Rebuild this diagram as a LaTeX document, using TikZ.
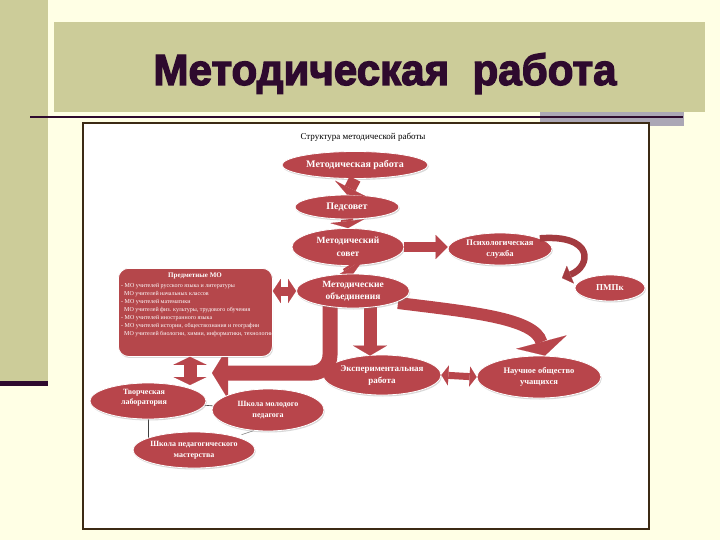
\documentclass[tikz,border=0pt]{standalone}
\usepackage{fontspec}
\setmainfont{Liberation Serif}
\newfontfamily\titlefont[BoldFeatures={FakeBold=3}]{Liberation Sans}
\usetikzlibrary{arrows.meta,shapes.geometric,shadows,calc}
\definecolor{bg}{HTML}{FFFFE5}
\definecolor{olive}{HTML}{CCCC99}
\definecolor{darkpurple}{HTML}{2E0A2E}
\definecolor{graybar}{HTML}{ABA7B5}
\definecolor{panelborder}{HTML}{3C2A14}
\definecolor{myred}{HTML}{B8454B}
\definecolor{boxred}{HTML}{B5474B}
\definecolor{psyred}{HTML}{A33B40}
\tikzset{
  ell/.style={ellipse, fill=myred, draw=white, line width=0.8pt, inner sep=0pt,
    drop shadow={shadow xshift=0.8pt, shadow yshift=-1.5pt, opacity=0.3}},
  lbl/.style={text=white, font=\bfseries\fontsize{#1}{#1}\selectfont, align=center, inner sep=0pt},
  blk/.style args={#1/#2/#3}{draw=myred, line width=#1pt,
    -{Triangle[width=#2pt,length=#3pt,line width=0.1pt]}},
  dblk/.style args={#1/#2/#3}{draw=myred, line width=#1pt,
    {Triangle[width=#2pt,length=#3pt,line width=0.1pt]}-{Triangle[width=#2pt,length=#3pt,line width=0.1pt]}},
  thin/.style={draw=black!75, line width=0.6pt}
}
\begin{document}
\begin{tikzpicture}[x=1pt,y=-1pt]
\useasboundingbox (0,0) rectangle (720,540);
% background
\fill[bg] (0,0) rectangle (720,540);
\fill[olive] (0,0) rectangle (48,383);
\fill[darkpurple] (0,381) rectangle (48,386);
\fill[olive] (54,22) rectangle (705,112);
\fill[graybar] (540,112) rectangle (684,126);
\draw[darkpurple, line width=2.2pt] (30,117) -- (683,117);
% title
\node[anchor=base, inner sep=0pt, text=darkpurple] (title) at (385,85)
  {\titlefont\bfseries\resizebox{463pt}{32pt}{Методическая\ \ работа}};
% panel
\draw[panelborder, line width=2pt, fill=white] (83,123) rectangle (649,529);
\node[font=\fontsize{9}{10}\selectfont, inner sep=0pt] (cap) at (363,137) {Структура методической работы};

% ellipses (upper part)
\node[ell, minimum width=146pt, minimum height=27pt] (e1) at (355,165) {};
\node[ell, minimum width=104pt, minimum height=24pt] (e2) at (347,207) {};
\node[ell, minimum width=112pt, minimum height=37pt] (e3) at (348,247) {};
\node[ell, minimum width=104pt, minimum height=32pt] (psy) at (500,249) {};
\node[ell, minimum width=70pt, minimum height=26pt] (pmpk) at (610,288) {};
\node[ell, minimum width=118pt, minimum height=40pt] (e5) at (382,375) {};
\node[ell, minimum width=124pt, minimum height=42pt] (e6) at (539,377) {};

% thin connectors (partly hidden under the lower ellipses)
\coordinate (c7) at (148,401);
\coordinate (c8) at (268,410);
\coordinate (c9) at (194,450);
\draw[thin] (c7) -- (c7 |- c9);
\draw[thin] (c7) -- (c8);

% arrows
\draw[blk=12/34/7] (e1.south) -- (e2.north);
\draw[blk=12/34/7] (e2.south) -- (e3.north);
\coordinate (e4n) at (353,274);
\draw[blk=12/34/7] (e3.south) -- (e4n);
\draw[blk=10/24/12] (e3.east) -- (e3.east -| psy.west);
\coordinate (pmtip) at (562,278);
\draw[draw=psyred, line width=6.5pt, -{Triangle[width=19pt,length=9pt,line width=0.1pt]}]
  (psy.15) .. controls (594,234) and (592,266) .. (pmtip);
\coordinate (bigtip) at (212,373);
\draw[blk=15/52/16, rounded corners=18pt] (330,300) |- (bigtip);
\draw[blk=12/52/14] (398,303) .. controls (470,312) and (535,318) .. ($(e6.north)+(6,0)$);
\draw[blk=13/34/10] (370,300) -- ($(e5.north)+(-12,1)$);
\draw[dblk=7/20/7] (e5.east) -- (e6.west);

% Методические объединения (on top of arrow starts)
\node[ell, minimum width=113pt, minimum height=34pt] (e4) at (353,291) {};

% box of subject MO
\node[draw=white, line width=0.8pt, fill=boxred, rounded corners=10pt, minimum width=154pt,
  minimum height=88pt, anchor=north west, inner sep=0pt,
  drop shadow={shadow xshift=0.8pt, shadow yshift=-1.5pt, opacity=0.3}] (box) at (118,268) {};
\draw[dblk=9/24/8] (box.east |- e4.west) -- (e4.west);
\coordinate (a8) at (190,385);
\draw[dblk=13/33/8] (box.south -| a8) -- (a8);
\node[lbl=7] at (195,276) {Предметные МО};
\node[anchor=north west, text=white, align=left, inner sep=0pt,
  font=\fontsize{6}{8.1}\selectfont] (mo) at (121,283) {%
- МО учителей русского языка и литературы\\
\hspace{3pt}МО учителей начальных классов\\
- МО учителей математики\\
\hspace{3pt}МО учителей физ. культуры, трудового обучения\\
- МО учителей иностранного языка\\
- МО учителей истории, обществознания и географии\\
\hspace{3pt}МО учителей биологии, химии, информатики, технологии};

% lower-left ellipses
\node[ell, minimum width=116pt, minimum height=36pt] (e7) at (c7) {};
\node[ell, minimum width=112pt, minimum height=42pt] (e8) at (c8) {};
\draw[draw=black!45, line width=0.6pt] (e8.235) -- ++(-12,4);
\node[ell, minimum width=122pt, minimum height=36pt] (e9) at (c9) {};

% labels
\node[lbl=10] at (e1) {Методическая работа};
\node[lbl=10] at (e2) {Педсовет};
\node[lbl=9.5] at (e3) {Методический\\[3pt]совет};
\node[lbl=9.5] at (e4) {Методические\\[3pt]объединения};
\node[lbl=8.5] at (psy) {Психологическая\\[2pt]служба};
\node[lbl=9] at (pmpk) {ПМПк};
\node[lbl=9] at (e5) {Экспериментальная\\[3pt]работа};
\node[lbl=8.5] at (e6) {Научное общество\\[2pt]учащихся};
\node[lbl=8] at ($(e7)+(-4,-3)$) {Творческая\\[2pt]лаборатория};
\node[lbl=8] at (e8) {Школа молодого\\[3pt]педагога};
\node[lbl=8] at (e9) {Школа педагогического\\[3pt]мастерства};
\end{tikzpicture}
\end{document}
